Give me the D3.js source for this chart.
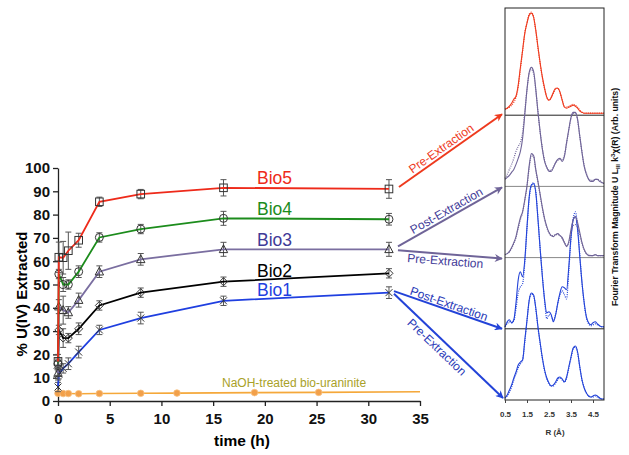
<!DOCTYPE html>
<html><head><meta charset="utf-8">
<script src="https://cdn.jsdelivr.net/npm/d3@7"></script>
<style>body{margin:0;background:#fff}</style>
</head><body>
<svg id="c" width="629" height="455" xmlns="http://www.w3.org/2000/svg"></svg>
<script>
// ---------- main chart data ----------
const times = [0, 0.08, 0.5, 1, 2, 4, 8, 16, 32];
const bio1 = [6, 11.5, 14, 16, 21, 30.5, 35.6, 43, 46.5];
const bio1Err = [2, 2, 2, 2.5, 2.5, 2, 2.5, 2, 2.5];
const bio2 = [14, 30.5, 27, 27, 31, 41, 46.5, 51.2, 54.8];
const bio2Err = [3, 2, 4, 2, 2.5, 2, 2, 2, 2];
const bio3 = [12, 40.5, 39, 38, 43.3, 55.5, 60.8, 65.1, 65.1];
const bio3Err = [3, 3, 6, 2.5, 3, 2.5, 2.5, 3, 3];
const bio4 = [16, 54.5, 50, 50, 55.5, 70.2, 73.8, 78.4, 78];
const bio4Err = [2, 2, 3, 2, 2.5, 2, 2, 3, 2.5];
const bio5 = [17, 61.7, 61.5, 64.5, 69, 85.5, 88.8, 91.5, 91];
const bio5Err = [3, 6.5, 7, 8, 3, 2, 2, 3.5, 4];
const naohTimes = [0, 0.5, 1, 2, 4, 8, 11.5, 19, 25.2, 35];
const naohValues = [3.3, 3.2, 3.2, 3.1, 3.2, 3.3, 3.4, 3.6, 3.7, 4.0];
const seriesNames = ["Bio1", "Bio2", "Bio3", "Bio4", "Bio5"];
const xTicks = [0, 5, 10, 15, 20, 25, 30, 35];
const yTicks = [0, 10, 20, 30, 40, 50, 60, 70, 80, 90, 100];

// ---------- EXAFS Fourier transform panel data ----------
const rGrid = [0.5,0.6,0.7,0.8,0.9,1.0,1.1,1.2,1.3,1.4,1.5,1.6,1.7,1.8,1.9,2.0,2.1,2.2,2.3,2.4,2.5,2.6,2.7,2.8,2.9,3.0,3.1,3.2,3.3,3.4,3.5,3.6,3.7,3.8,3.9,4.0,4.1,4.2,4.3,4.4,4.5,4.6,4.7,4.8,4.9,5.0];
const bio1PreFit   = [2,5,10,15,22,28,35,38,40,60,80,100,107,105,92,73,57,42,30,22,17,14,15,18,22,23,21,18,23,33,43,52,54,48,33,20,12,7,4,3,4,5,4,2,1,1];
const bio1PreData  = [2,4,8,13,20,26,32,36,40,58,79,99,106,104,91,72,56,41,29,21,16,14,14,17,20,22,20,18,22,32,42,51,53,47,33,20,12,7,4,3,3,4,3,2,1,1];
const bio1PostFit  = [2,7,9,6,9,26,49,57,52,69,102,132,144,145,136,109,79,52,29,16,17,14,7,14,26,36,42,41,39,62,92,109,112,99,72,46,26,12,6,4,6,7,5,3,2,2];
const bio1PostData = [2,5,7,6,8,20,36,42,45,66,100,130,143,146,137,110,80,52,28,10,14,13,9,14,25,34,38,34,30,58,90,110,117,102,74,46,25,11,5,3,4,5,4,3,2,2];
const bio3PreFit   = [3,4,6,10,15,21,31,40,46,58,72,92,104,102,88,76,63,50,39,31,25,22,21,23,24,22,20,15,11,16,28,38,41,35,25,15,8,4,2,2,2,3,2,2,2,2];
const bio3PreData  = [3,4,6,9,14,20,29,38,45,57,71,90,102,101,87,75,62,49,38,30,25,22,22,23,23,22,19,15,12,15,25,32,33,30,23,14,8,4,3,2,2,3,2,2,2,2];
const bio3PostFit  = [7,9,11,14,17,22,28,35,48,72,97,114,119,115,97,74,54,37,25,19,15,15,19,24,27,28,25,30,44,57,69,74,74,67,50,34,20,12,7,5,5,7,7,5,4,3];
const bio3PostData = [8,12,17,22,28,35,40,44,54,75,97,113,117,113,96,74,54,38,26,19,16,16,19,23,26,27,27,31,43,56,68,73,73,66,50,34,21,13,8,6,6,7,7,6,4,3];
const bio5PreFit   = [6,7,9,12,16,19,30,48,65,82,92,100,102,98,85,68,52,38,27,18,15,18,23,27,27,23,15,8,7,8,9,10,9,7,4,3,2,2,2,2,2,2,2,2,2,2];
const bio5PreData  = [6,7,8,10,13,18,28,46,64,82,93,101,103,98,84,67,51,37,26,18,15,17,22,26,27,23,15,9,8,9,10,11,10,8,5,3,2,2,2,2,2,2,2,2,2,2];
const rTicks = [0.5, 1.5, 2.5, 3.5, 4.5];

// ---------- setup ----------
const svg = d3.select("#c");
const ARIAL = "Liberation Sans, Arial, sans-serif";
const x = d3.scaleLinear().domain([0, 35]).range([58, 420]);
const y = d3.scaleLinear().domain([0, 100]).range([401, 168]);

const colors = {Bio1: "#1f3fe0", Bio2: "#000000", Bio3: "#7a6ea0", Bio4: "#1c8c1c", Bio5: "#ee2a1a"};
const labelColors = {Bio1: "#1f3fe0", Bio2: "#000000", Bio3: "#3f3a98", Bio4: "#1c8c1c", Bio5: "#ee2a1a"};
const seriesVals = {Bio1: bio1, Bio2: bio2, Bio3: bio3, Bio4: bio4, Bio5: bio5};
const seriesErr = {Bio1: bio1Err, Bio2: bio2Err, Bio3: bio3Err, Bio4: bio4Err, Bio5: bio5Err};

// axes
const yAxis = svg.append("g").attr("transform", "translate(58,0)")
  .call(d3.axisLeft(y).tickValues(yTicks).tickSize(5).tickSizeOuter(0).tickPadding(3));
const xAxis = svg.append("g").attr("transform", "translate(0,401)")
  .call(d3.axisBottom(x).tickValues(xTicks).tickSize(5).tickSizeOuter(0).tickPadding(7));
[yAxis, xAxis].forEach(a => {
  a.selectAll("path,line").attr("stroke", "#222").attr("stroke-width", 1.3);
  a.selectAll("text").attr("font-family", ARIAL).attr("font-weight", "bold")
    .attr("font-size", 15).attr("fill", "#111");
});

svg.append("text").attr("x", 242).attr("y", 446).attr("text-anchor", "middle")
  .attr("font-family", ARIAL).attr("font-weight", "bold").attr("font-size", 15.5)
  .text("time (h)");
svg.append("text").attr("transform", "translate(27,294) rotate(-90)").attr("text-anchor", "middle")
  .attr("font-family", ARIAL).attr("font-weight", "bold").attr("font-size", 15)
  .text("% U(IV) Extracted");

// NaOH series
const naoh = naohTimes.map((t, i) => ({t, v: naohValues[i]}));
svg.append("path").datum(naoh).attr("fill", "none").attr("stroke", "#f5a83a").attr("stroke-width", 1.6)
  .attr("d", d3.line().x(d => x(d.t)).y(d => y(d.v)));
svg.selectAll(".naoh").data(naoh.filter(d => d.t <= 32)).enter().append("circle")
  .attr("cx", d => x(d.t)).attr("cy", d => y(d.v)).attr("r", 3.3)
  .attr("fill", "#f2a04a").attr("stroke", "#f7c080").attr("stroke-width", 0.8);
svg.append("text").attr("x", 222).attr("y", 387).attr("font-family", ARIAL).attr("font-size", 12)
  .attr("fill", "#a9a128").text("NaOH-treated bio-uraninite");

// Series lines
const line = d3.line().x(d => x(d.t)).y(d => y(d.v));
seriesNames.forEach(name => {
  const pts = times.map((t, i) => ({t, v: seriesVals[name][i], e: seriesErr[name][i]}));
  const g = svg.append("g");
  pts.forEach(p => {
    const cx = x(p.t);
    g.append("line").attr("x1", cx).attr("x2", cx).attr("y1", y(p.v - p.e)).attr("y2", y(p.v + p.e))
      .attr("stroke", "#555").attr("stroke-width", 1);
    [p.v - p.e, p.v + p.e].forEach(v => g.append("line").attr("x1", cx - 3).attr("x2", cx + 3)
      .attr("y1", y(v)).attr("y2", y(v)).attr("stroke", "#555").attr("stroke-width", 1));
  });
  g.append("path").datum(pts).attr("fill", "none").attr("stroke", colors[name]).attr("stroke-width", 1.8)
    .attr("d", line);
  pts.forEach(p => {
    const cx = x(p.t), cy = y(p.v);
    let m;
    if (name === "Bio5") m = g.append("rect").attr("x", cx - 3.8).attr("y", cy - 3.8).attr("width", 7.6).attr("height", 7.6);
    else if (name === "Bio4") m = g.append("circle").attr("cx", cx).attr("cy", cy).attr("r", 4);
    else if (name === "Bio3") m = g.append("path").attr("d", `M${cx},${cy-4.5}L${cx+4.2},${cy+3.3}L${cx-4.2},${cy+3.3}Z`);
    else if (name === "Bio2") m = g.append("path").attr("d", `M${cx},${cy-4}L${cx+4},${cy}L${cx},${cy+4}L${cx-4},${cy}Z`);
    else m = g.append("path").attr("d", `M${cx-3.5},${cy-3.5}L${cx+3.5},${cy+3.5}M${cx+3.5},${cy-3.5}L${cx-3.5},${cy+3.5}`);
    m.attr("stroke", "#333").attr("stroke-width", 1).attr("fill", "none");
  });
});

// series labels
const labelPos = {Bio5: [257, 184], Bio4: [257, 215], Bio3: [257, 246], Bio2: [257, 277], Bio1: [257, 296]};
seriesNames.forEach(name => {
  svg.append("text").attr("x", labelPos[name][0]).attr("y", labelPos[name][1])
    .attr("font-family", ARIAL).attr("font-size", 17.5).attr("fill", labelColors[name]).text(name);
});

// ---------- right panel ----------
const xr = d3.scaleLinear().domain([0.5, 5.0]).range([505, 604]);
const yr = d3.scaleLinear().domain([0, 392]).range([400, 8]);
const step = 71.2;
const spectra = [
  {fit: bio1PreFit, data: bio1PreData, color: "#2343d8", k: 0},
  {fit: bio1PostFit, data: bio1PostData, color: "#2343d8", k: 1},
  {fit: bio3PreFit, data: bio3PreData, color: "#6f6498", k: 2},
  {fit: bio3PostFit, data: bio3PostData, color: "#6f6498", k: 3},
  {fit: bio5PreFit, data: bio5PreData, color: "#ee3a1e", k: 4}
];
[1, 2, 3, 4].forEach(k => {
  svg.append("line").attr("x1", 505).attr("x2", 604).attr("y1", yr(k * step)).attr("y2", yr(k * step))
    .attr("stroke", (k === 1 || k === 4) ? "#222" : "#888").attr("stroke-width", 1);
});
const sLine = d3.line().curve(d3.curveMonotoneX);
spectra.forEach(s => {
  const off = s.k * step;
  svg.append("path").attr("fill", "none").attr("stroke", s.color).attr("stroke-width", 1.2)
    .attr("stroke-dasharray", "1,1.2")
    .attr("d", sLine(rGrid.map((r, i) => [xr(r), yr(off + s.data[i])])));
  svg.append("path").attr("fill", "none").attr("stroke", s.color).attr("stroke-width", 1.1)
    .attr("d", sLine(rGrid.map((r, i) => [xr(r), yr(off + s.fit[i])])));
});
svg.append("rect").attr("x", 505).attr("y", 8).attr("width", 99).attr("height", 392)
  .attr("fill", "none").attr("stroke", "#222").attr("stroke-width", 1);
const rAxis = svg.append("g").attr("transform", "translate(0,400)")
  .call(d3.axisBottom(xr).tickValues(rTicks).tickSize(3).tickSizeOuter(0).tickPadding(8).tickFormat(d3.format(".1f")));
rAxis.select(".domain").remove();
rAxis.selectAll("line").attr("stroke", "#444");
rAxis.selectAll("text").attr("font-family", ARIAL).attr("font-weight", "bold").attr("font-size", 8).attr("fill", "#333");
svg.append("text").attr("x", 555).attr("y", 435).attr("text-anchor", "middle")
  .attr("font-family", ARIAL).attr("font-weight", "bold").attr("font-size", 8).attr("fill", "#333").text("R (Å)");

const yl = svg.append("text").attr("transform", "translate(618,197) rotate(-90)").attr("text-anchor", "middle")
  .attr("font-family", ARIAL).attr("font-weight", "bold").attr("font-size", 8.7).attr("fill", "#111");
yl.append("tspan").text("Fourier Transform Magnitude U L");
yl.append("tspan").attr("font-size", 5.8).attr("dy", 2).text("III");
yl.append("tspan").attr("dy", -2).text(" k");
yl.append("tspan").attr("font-size", 5.8).attr("dy", -3.5).text("3");
yl.append("tspan").attr("dy", 3.5).text("χ(R) (Arb. units)");

// ---------- arrows ----------
const defs = svg.append("defs");
function marker(id, color) {
  defs.append("marker").attr("id", id).attr("viewBox", "0 0 10 10").attr("refX", 9).attr("refY", 5)
    .attr("markerWidth", 9).attr("markerHeight", 8).attr("markerUnits", "userSpaceOnUse").attr("orient", "auto")
    .append("path").attr("d", "M0,0L10,5L0,10L3,5Z").attr("fill", color);
}
marker("mRed", "#ee3a1e"); marker("mPur", "#6f6498"); marker("mBlue", "#2343d8");
const last = times.length - 1;
const arrows = [
  {from: [x(times[last]) + 10, y(bio5[last]) - 2], to: [502, yr(4 * step) - 1], color: "#ee3a1e", m: "mRed", text: "Pre-Extraction", tcol: "#ee3a1e", f: 0.45, off: -3},
  {from: [x(times[last]) + 9, y(bio3[last]) - 3], to: [502, yr(3 * step) + 1], color: "#6f6498", m: "mPur", text: "Post-Extraction", tcol: "#3f3a98", f: 0.5, off: -3},
  {from: [x(times[last]) + 9, y(bio3[last]) + 1], to: [502, yr(2 * step) + 1], color: "#6f6498", m: "mPur", text: "Pre-Extraction", tcol: "#3f3a98", f: 0.46, off: 11},
  {from: [x(times[last]) + 5, y(bio1[last]) - 1.5], to: [502, yr(1 * step)], color: "#2343d8", m: "mBlue", text: "Post-Extraction", tcol: "#2a3bb8", f: 0.49, off: -2},
  {from: [x(times[last]) + 5, y(bio1[last]) + 1], to: [503, yr(0) - 2], color: "#2343d8", m: "mBlue", text: "Pre-Extraction", tcol: "#2a3bb8", f: 0.45, off: 13}
];
arrows.forEach(a => {
  svg.append("line").attr("x1", a.from[0]).attr("y1", a.from[1]).attr("x2", a.to[0]).attr("y2", a.to[1])
    .attr("stroke", a.color).attr("stroke-width", 2).attr("marker-end", `url(#${a.m})`);
  const dx = a.to[0] - a.from[0], dy = a.to[1] - a.from[1];
  const ang = Math.atan2(dy, dx) * 180 / Math.PI;
  const px = a.from[0] + dx * a.f, py = a.from[1] + dy * a.f;
  svg.append("text").attr("transform", `translate(${px},${py}) rotate(${ang})`)
    .attr("y", a.off).attr("text-anchor", "middle").attr("font-family", ARIAL).attr("font-size", 12)
    .attr("fill", a.tcol).text(a.text);
});
</script>
</body></html>
